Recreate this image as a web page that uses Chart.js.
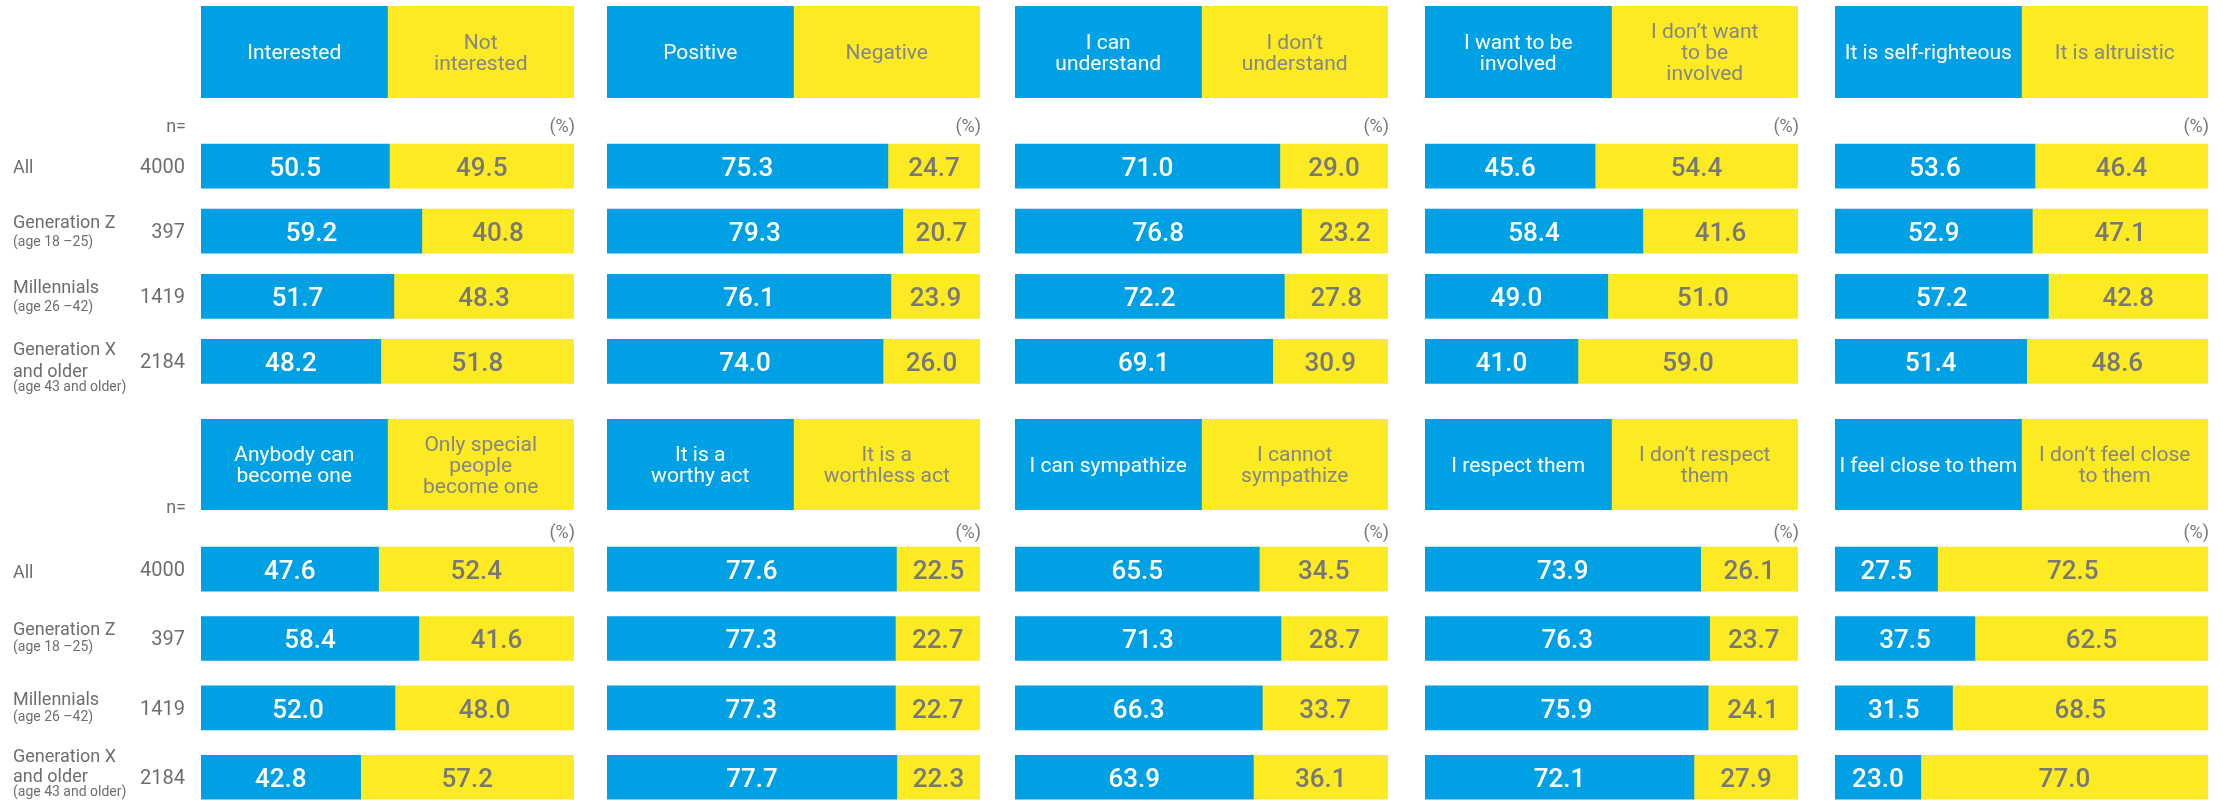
<!DOCTYPE html>
<html>
<head>
<meta charset="utf-8">
<script src="https://cdn.jsdelivr.net/npm/chart.js@4.4.1/dist/chart.umd.min.js"></script>
<style>
html, body { margin: 0; padding: 0; background: #ffffff; overflow: hidden; width: 2226px; height: 801px; }
#wrap { position: relative; width: 2226px; height: 801px; overflow: hidden; background: #ffffff; }
#wrap canvas { position: absolute; }
</style>
</head>
<body>
<div id="wrap"></div>
<script>
// ---------------- DATA ----------------
const groupNames = [['All'], ['Generation Z'], ['Millennials'], ['Generation X', 'and older']];
const groupAges = ['', '(age 18 –25)', '(age 26 –42)', '(age 43 and older)'];
const sampleSizes = ['4000', '397', '1419', '2184'];

// Top block
const interested       = [50.5, 59.2, 51.7, 48.2];
const notInterested    = [49.5, 40.8, 48.3, 51.8];
const positive         = [75.3, 79.3, 76.1, 74.0];
const negative         = [24.7, 20.7, 23.9, 26.0];
const canUnderstand    = [71.0, 76.8, 72.2, 69.1];
const dontUnderstand   = [29.0, 23.2, 27.8, 30.9];
const wantInvolved     = [45.6, 58.4, 49.0, 41.0];
const dontWantInvolved = [54.4, 41.6, 51.0, 59.0];
const selfRighteous    = [53.6, 52.9, 57.2, 51.4];
const altruistic       = [46.4, 47.1, 42.8, 48.6];

// Bottom block
const anybodyCan       = [47.6, 58.4, 52.0, 42.8];
const onlySpecial      = [52.4, 41.6, 48.0, 57.2];
const worthyAct        = [77.6, 77.3, 77.3, 77.7];
const worthlessAct     = [22.5, 22.7, 22.7, 22.3];
const canSympathize    = [65.5, 71.3, 66.3, 63.9];
const cannotSympathize = [34.5, 28.7, 33.7, 36.1];
const respectThem      = [73.9, 76.3, 75.9, 72.1];
const dontRespectThem  = [26.1, 23.7, 24.1, 27.9];
const feelClose        = [27.5, 37.5, 31.5, 23.0];
const dontFeelClose    = [72.5, 62.5, 68.5, 77.0];

// Header boxes are split evenly
const headerSplit = [50, 50];

const topHeaders = [
  [['Interested'], ['Not', 'interested']],
  [['Positive'], ['Negative']],
  [['I can', 'understand'], ['I don’t', 'understand']],
  [['I want to be', 'involved'], ['I don’t want', 'to be', 'involved']],
  [['It is self-righteous'], ['It is altruistic']]
];
const bottomHeaders = [
  [['Anybody can', 'become one'], ['Only special', 'people', 'become one']],
  [['It is a', 'worthy act'], ['It is a', 'worthless act']],
  [['I can sympathize'], ['I cannot', 'sympathize']],
  [['I respect them'], ['I don’t respect', 'them']],
  [['I feel close to them'], ['I don’t feel close', 'to them']]
];
const topSeries = [
  [interested, notInterested], [positive, negative], [canUnderstand, dontUnderstand],
  [wantInvolved, dontWantInvolved], [selfRighteous, altruistic]
];
const bottomSeries = [
  [anybodyCan, onlySpecial], [worthyAct, worthlessAct], [canSympathize, cannotSympathize],
  [respectThem, dontRespectThem], [feelClose, dontFeelClose]
];

// ---------------- STYLE / LAYOUT ----------------
const BLUE = '#00A0E4';
const YELLOW = '#FCEA22';
const GREY = '#787878';
const LABEL_GREY = '#6e6e6e';
const HEADER_GREY = '#868686';
const FONT = 'Roboto, "Liberation Sans", sans-serif';
const PANEL_X = [201, 607, 1015, 1425, 1835];
const PANEL_W = 373;
const HALVES = [
  { headers: topHeaders, series: topSeries, headerTop: 6, headerH: 92, rowsTop: 98, padTop: 35.5, pitch: 65,
    nY: 132, pctY: 127, allBase: 7, twoBase: [-3, 15], threeBase: [-6, 16, 30] },
  { headers: bottomHeaders, series: bottomSeries, headerTop: 419, headerH: 91, rowsTop: 490, padTop: 44.35, pitch: 69.3,
    nY: 513, pctY: 533.5, allBase: 9, twoBase: [-3, 13], threeBase: [-15, 5, 19] }
];

Chart.defaults.font.family = FONT;

const wrap = document.getElementById('wrap');
function makeCanvas(left, top, w, h) {
  const c = document.createElement('canvas');
  c.width = Math.ceil(w); c.height = Math.ceil(h);
  c.style.left = left + 'px'; c.style.top = top + 'px';
  c.style.width = Math.ceil(w) + 'px'; c.style.height = Math.ceil(h) + 'px';
  wrap.appendChild(c);
  return c;
}

// Header text plugin
const headerTextPlugin = {
  id: 'headerText',
  afterDatasetsDraw(chart) {
    const ctx = chart.ctx;
    ctx.save();
    ctx.textAlign = 'center';
    ctx.textBaseline = 'alphabetic';
    ctx.font = `400 21px ${FONT}`;
    chart.data.datasets.forEach((ds, di) => {
      const meta = chart.getDatasetMeta(di);
      meta.data.forEach((el) => {
        const cx = (el.x + el.base) / 2;
        const cy = el.y;
        const lines = ds.headerLines;
        const lh = 21;
        ctx.fillStyle = ds.textColor;
        lines.forEach((t, i) => {
          ctx.fillText(t, cx, cy + 7 + (i - (lines.length - 1) / 2) * lh);
        });
      });
    });
    ctx.restore();
  }
};

// Value label plugin
const valuePlugin = {
  id: 'valueLabels',
  afterDatasetsDraw(chart) {
    const ctx = chart.ctx;
    ctx.save();
    ctx.textAlign = 'center';
    ctx.textBaseline = 'alphabetic';
    ctx.font = `500 26px ${FONT}`;
    chart.data.datasets.forEach((ds, di) => {
      const meta = chart.getDatasetMeta(di);
      meta.data.forEach((el, i) => {
        const cx = (el.x + el.base) / 2;
        ctx.fillStyle = ds.textColor;
        ctx.fillText(ds.data[i].toFixed(1), cx, el.y + 10);
      });
    });
    // "(%)" unit label
    const cfg = chart.options.plugins.extraText;
    ctx.font = `400 18px ${FONT}`;
    ctx.fillStyle = GREY;
    ctx.textAlign = 'right';
    ctx.textBaseline = 'middle';
    ctx.fillText('(%)', chart.chartArea.right + 1, cfg.pctY);
    ctx.restore();
  }
};

// Row labels plugin (left side of first panel)
const rowLabelPlugin = {
  id: 'rowLabels',
  afterDraw(chart) {
    const cfg = chart.options.plugins.extraText;
    if (!cfg.rowLabels) return;
    const ctx = chart.ctx;
    const y = chart.scales.y;
    ctx.save();
    ctx.fillStyle = LABEL_GREY;
    // n=
    ctx.textAlign = 'right';
    ctx.textBaseline = 'alphabetic';
    ctx.font = `400 18px ${FONT}`;
    ctx.fillText('n=', 186, cfg.nY);
    groupNames.forEach((names, i) => {
      const cy = y.getPixelForValue(i);
      // sample sizes
      ctx.textAlign = 'right';
      ctx.font = `400 20px ${FONT}`;
      ctx.fillText(sampleSizes[i], 185, cy + 7);
      // group labels
      ctx.textAlign = 'left';
      const lines = names.map(t => ({ t, f: `400 18px ${FONT}` }));
      if (groupAges[i]) lines.push({ t: groupAges[i], f: `400 14px ${FONT}` });
      let offs;
      if (lines.length === 1) offs = [cfg.allBase];
      else if (lines.length === 2) offs = cfg.twoBase;
      else offs = cfg.threeBase;
      lines.forEach((ln, k) => {
        ctx.font = ln.f;
        ctx.fillText(ln.t, 13, cy + offs[k]);
      });
    });
    ctx.restore();
  }
};

HALVES.forEach((half) => {
  for (let p = 0; p < 5; p++) {
    // ---- header box ----
    const hc = makeCanvas(PANEL_X[p], half.headerTop, PANEL_W, half.headerH);
    new Chart(hc, {
      type: 'bar',
      data: {
        labels: ['header'],
        datasets: [
          { data: [headerSplit[0]], backgroundColor: BLUE, headerLines: half.headers[p][0], textColor: '#ffffff' },
          { data: [headerSplit[1]], backgroundColor: YELLOW, headerLines: half.headers[p][1], textColor: HEADER_GREY }
        ]
      },
      options: {
        indexAxis: 'y',
        responsive: false,
        animation: false,
        devicePixelRatio: 1,
        layout: { padding: 0 },
        datasets: { bar: { categoryPercentage: 1, barPercentage: 1, borderWidth: 0 } },
        plugins: { legend: { display: false }, tooltip: { enabled: false }, title: { display: false } },
        scales: {
          x: { stacked: true, min: 0, max: 100, display: false },
          y: { stacked: true, display: false }
        }
      },
      plugins: [headerTextPlugin]
    });

    // ---- data rows ----
    const first = p === 0;
    const left = first ? 0 : PANEL_X[p];
    const padLeft = first ? PANEL_X[0] : 0;
    const w = padLeft + PANEL_W + 4;
    const h = half.padTop + 4 * half.pitch;
    const rc = makeCanvas(left, half.rowsTop, w, h);
    const [a, b] = half.series[p];
    new Chart(rc, {
      type: 'bar',
      data: {
        labels: groupNames.map(n => n.join(' ')),
        datasets: [
          { data: a, backgroundColor: BLUE, textColor: '#ffffff' },
          { data: b, backgroundColor: YELLOW, textColor: GREY }
        ]
      },
      options: {
        indexAxis: 'y',
        responsive: false,
        animation: false,
        devicePixelRatio: 1,
        layout: { padding: { left: padLeft, right: 4, top: half.padTop, bottom: 0 } },
        datasets: { bar: { barThickness: 44, borderWidth: 0 } },
        plugins: {
          legend: { display: false }, tooltip: { enabled: false }, title: { display: false },
          extraText: {
            rowLabels: first,
            nY: half.nY - half.rowsTop,
            pctY: half.pctY - half.rowsTop,
            allBase: half.allBase, twoBase: half.twoBase, threeBase: half.threeBase
          }
        },
        scales: {
          x: { stacked: true, min: 0, max: 100, display: false },
          y: { stacked: true, display: false }
        }
      },
      plugins: [valuePlugin, rowLabelPlugin]
    });
  }
});
</script>
</body>
</html>
